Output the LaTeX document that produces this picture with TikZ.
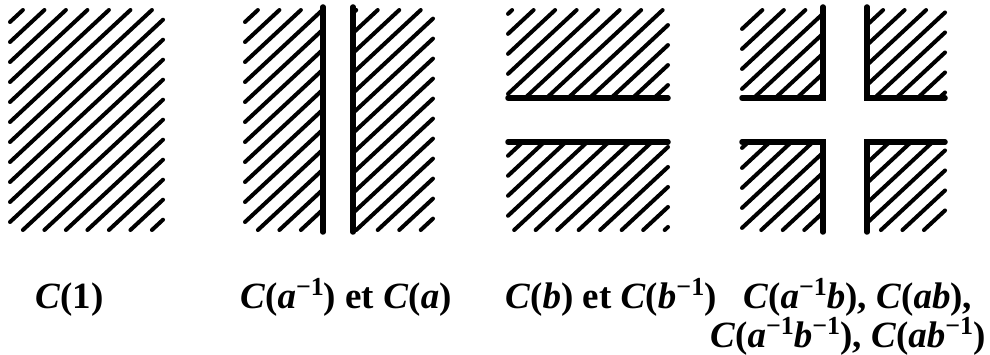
\documentclass[tikz,border=0pt]{standalone}
\usepackage{fontspec}
\setmainfont{Liberation Serif}
\tikzset{
  hatchline/.style={line width=4pt, line cap=round},
  border/.style={line width=5.5pt, line cap=round, line join=miter},
  lab/.style={anchor=base west, inner sep=0pt, font=\fontsize{37}{40}\selectfont\bfseries}
}
\newcommand\hs{0.93}
\newcommand\mi[1]{\textit{#1}}
\newcommand\inv{\raisebox{0.34em}{\fontsize{26}{26}\selectfont −1}}
% #1=x0 #2=y0 #3=x1 #4=y1 #5=phase
\newcommand\hatchbox[5]{%
  \foreach \k in {-55,...,20} {%
    \pgfmathsetmacro\cc{#5+20*\k}%
    \pgfmathsetmacro\xs{max(#1,(#2-\cc)/\hs)}%
    \pgfmathsetmacro\xe{min(#3,(#4-\cc)/\hs)}%
    \pgfmathsetmacro\ys{\hs*\xs+\cc}%
    \pgfmathsetmacro\ye{\hs*\xe+\cc}%
    \ifdim\dimexpr\xe pt-\xs pt\relax>0pt
      \draw[hatchline] (\xs,\ys) -- (\xe,\ye);
    \fi
  }%
}
\begin{document}
\begin{tikzpicture}[x=1pt,y=1pt]
\useasboundingbox (0,0) rectangle (990,354);
% Panel 1
\hatchbox{10}{124}{163}{344}{2.7}
% Panel 2
\hatchbox{245}{124}{323}{344}{4.15}
\hatchbox{353}{124}{433}{344}{12.7}
\coordinate (p2a) at (323,347); \coordinate (p2b) at (323,122);
\coordinate (p2c) at (353,347); \coordinate (p2d) at (353,122);
\draw[border] (p2a) -- (p2b);
\draw[border] (p2c) -- (p2d);
% Panel 3
\hatchbox{508}{256}{668}{344}{7.7}
\hatchbox{508}{124}{668}{212}{5.8}
\coordinate (p3a) at (508,256); \coordinate (p3b) at (668,256);
\coordinate (p3c) at (508,212); \coordinate (p3d) at (668,212);
\draw[border] (p3a) -- (p3b);
\draw[border] (p3c) -- (p3d);
% Panel 4
\hatchbox{742}{256}{823}{344}{15}
\hatchbox{867}{256}{945}{344}{2.7}
\hatchbox{742}{124}{823}{212}{16}
\hatchbox{867}{124}{945}{212}{4.7}
\coordinate (q1a) at (823,347); \coordinate (q1b) at (823,256); \coordinate (q1c) at (742,256);
\coordinate (q2a) at (867,347); \coordinate (q2b) at (867,256); \coordinate (q2c) at (945,256);
\coordinate (q3a) at (742,212); \coordinate (q3b) at (823,212); \coordinate (q3c) at (823,122);
\coordinate (q4a) at (945,212); \coordinate (q4b) at (867,212); \coordinate (q4c) at (867,122);
\draw[border] (q1a) -- (q1b) -- (q1c);
\draw[border] (q2a) -- (q2b) -- (q2c);
\draw[border] (q3a) -- (q3b) -- (q3c);
\draw[border] (q4a) -- (q4b) -- (q4c);
% Labels
\node[lab] (l1) at (35,46) {\mi{C}(1)};
\node[lab] (l2) at (240,46) {\mi{C}(\mi{a}\inv) et \mi{C}(\mi{a})};
\node[lab] (l3) at (505,46) {\mi{C}(\mi{b}) et \mi{C}(\mi{b}\inv)};
\node[lab] (l4) at (743,46) {\mi{C}(\mi{a}\inv\mi{b}), \mi{C}(\mi{ab}),};
\node[lab] (l5) at (710,7) {\mi{C}(\mi{a}\inv\mi{b}\inv), \mi{C}(\mi{ab}\inv)};
\end{tikzpicture}
\end{document}
